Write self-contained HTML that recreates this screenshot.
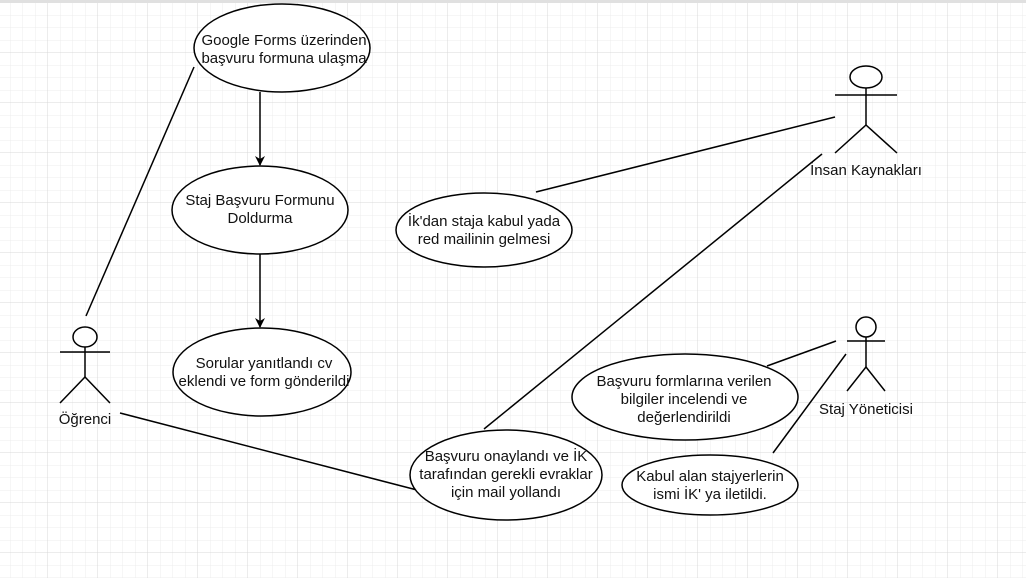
<!DOCTYPE html>
<html><head><meta charset="utf-8"><style>
html,body{margin:0;padding:0;background:#fff}
svg{display:block}
text{font-family:"Liberation Sans",Arial,sans-serif;font-size:15px;fill:#111;text-anchor:middle}
</style></head><body>
<svg width="1026" height="578" viewBox="0 0 1026 578" xmlns="http://www.w3.org/2000/svg">
<defs>
<pattern id="minor" x="-2" y="3" width="12.5" height="12.5" patternUnits="userSpaceOnUse">
<path d="M12.5 0V12.5M0 12.5H12.5" stroke="#ececec" stroke-width="1" fill="none"/>
</pattern>
<pattern id="major" x="-2" y="3" width="50" height="50" patternUnits="userSpaceOnUse">
<path d="M50 0V50M0 50H50" stroke="#d8d8d8" stroke-width="1" fill="none"/>
</pattern>
<marker id="ar" markerWidth="10" markerHeight="10" refX="9" refY="5" orient="auto" markerUnits="userSpaceOnUse">
<path d="M0,0 L10,5 L0,10 L3,5 Z" fill="#000"/>
</marker>
</defs>
<rect width="1026" height="578" fill="url(#minor)"/>
<rect width="1026" height="578" fill="url(#major)"/>
<rect width="1026" height="3" fill="#e0e0e0"/>
<g stroke="#000" stroke-width="1.5" fill="none">
<line x1="194" y1="67" x2="86" y2="316"/>
<line x1="260" y1="92" x2="260" y2="165" marker-end="url(#ar)"/>
<line x1="260" y1="254" x2="260" y2="327" marker-end="url(#ar)"/>
<line x1="536" y1="192" x2="835" y2="117"/>
<line x1="484" y1="429" x2="822" y2="154"/>
<line x1="120" y1="413" x2="417" y2="490"/>
<line x1="767" y1="366" x2="836" y2="341"/>
<line x1="773" y1="453" x2="846" y2="354"/>
</g>
<g stroke="#000" stroke-width="1.5" fill="#fff">
<ellipse cx="282" cy="48" rx="88" ry="44"/>
<ellipse cx="260" cy="210" rx="88" ry="44"/>
<ellipse cx="262" cy="372" rx="89" ry="44"/>
<ellipse cx="484" cy="230" rx="88" ry="37"/>
<ellipse cx="685" cy="397" rx="113" ry="43"/>
<ellipse cx="506" cy="475" rx="96" ry="45"/>
<ellipse cx="710" cy="485" rx="88" ry="30"/>
</g>
<g stroke="#000" stroke-width="1.5" fill="none">
<ellipse cx="866" cy="77" rx="16" ry="11" fill="#fff"/>
<line x1="835" y1="95" x2="897" y2="95"/><line x1="866" y1="88" x2="866" y2="125"/>
<line x1="866" y1="125" x2="835" y2="153"/><line x1="866" y1="125" x2="897" y2="153"/>
<ellipse cx="85" cy="337" rx="12" ry="10" fill="#fff"/>
<line x1="60" y1="352" x2="110" y2="352"/><line x1="85" y1="347" x2="85" y2="377"/>
<line x1="85" y1="377" x2="60" y2="403"/><line x1="85" y1="377" x2="110" y2="403"/>
<ellipse cx="866" cy="327" rx="10" ry="10" fill="#fff"/>
<line x1="847" y1="341" x2="885" y2="341"/><line x1="866" y1="337" x2="866" y2="367"/>
<line x1="866" y1="367" x2="847" y2="391"/><line x1="866" y1="367" x2="885" y2="391"/>
</g>
<text x="866" y="175">İnsan Kaynakları</text>
<text x="85" y="424">Öğrenci</text>
<text x="866" y="414">Staj Yöneticisi</text>
<text x="284" y="45">Google Forms üzerinden</text>
<text x="284" y="63">başvuru formuna ulaşma</text>
<text x="260" y="205">Staj Başvuru Formunu</text>
<text x="260" y="223">Doldurma</text>
<text x="264" y="368">Sorular yanıtlandı cv</text>
<text x="264" y="386">eklendi ve form gönderildi</text>
<text x="484" y="226">İk'dan staja kabul yada</text>
<text x="484" y="244">red mailinin gelmesi</text>
<text x="684" y="386">Başvuru formlarına verilen</text>
<text x="684" y="404">bilgiler incelendi ve</text>
<text x="684" y="422">değerlendirildi</text>
<text x="506" y="461">Başvuru onaylandı ve İK</text>
<text x="506" y="479">tarafından gerekli evraklar</text>
<text x="506" y="497">için mail yollandı</text>
<text x="710" y="481">Kabul alan stajyerlerin</text>
<text x="710" y="499">ismi İK' ya iletildi.</text>
</svg>
</body></html>
